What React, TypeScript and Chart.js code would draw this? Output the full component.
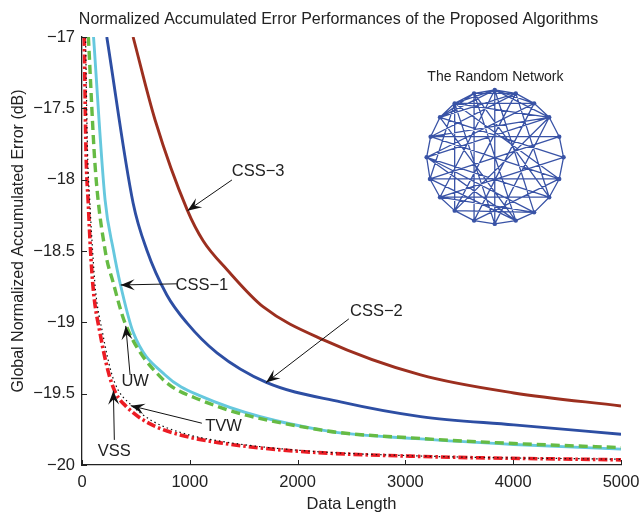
import React, { useEffect, useRef } from "react";
import { Chart, registerables } from "chart.js";

Chart.register(...registerables);

// ---------- data ----------
const chartTitle = "Normalized Accumulated Error Performances of the Proposed Algorithms";
const xTitle = "Data Length";
const yTitle = "Global Normalized Accumulated Error (dB)";

const css3X = [474, 678, 976, 1125, 1348, 1682, 2240, 3141, 4006, 5000];
const css3Y = [-17, -17.582, -18.212, -18.43, -18.633, -18.892, -19.123, -19.369, -19.495, -19.586];

const css2X = [230, 474, 601, 787, 973, 1252, 1710, 2398, 3141, 4006, 5000];
const css2Y = [-17, -18.163, -18.493, -18.808, -19.004, -19.214, -19.421, -19.558, -19.661, -19.719, -19.784];

const css1X = [107, 214, 291, 353, 477, 771, 1097, 2212, 3141, 4006, 5000];
const css1Y = [-17, -18.142, -18.493, -18.724, -19.074, -19.369, -19.516, -19.754, -19.817, -19.856, -19.889];

const uwX = [59, 121, 214, 291, 400, 725, 1097, 2212, 3141, 4006, 5000];
const uwY = [-17, -17.897, -18.493, -18.726, -19.006, -19.381, -19.544, -19.754, -19.814, -19.849, -19.878];

const vssX = [21, 37, 59, 79, 105, 167, 244, 307, 415, 632, 911, 1283, 2026, 3141, 5000];
const vssY = [-17, -17.792, -18.177, -18.493, -18.773, -19.074, -19.347, -19.487, -19.593, -19.712, -19.789, -19.845, -19.905, -19.94, -19.964];

const tvwX = [33, 51, 74, 98, 125, 191, 270, 335, 446, 651, 929, 1301, 2026, 3141, 5000];
const tvwY = [-17, -17.792, -18.177, -18.493, -18.773, -19.074, -19.347, -19.474, -19.572, -19.691, -19.775, -19.835, -19.898, -19.937, -19.96];

// inset network (node positions read in data units)
const netTitle = "The Random Network";
const netTitlePos = { x: 3835, y: -17.284 };
const netX = [3829, 4024, 4194, 4334, 4427, 4467, 4427, 4334, 4194, 4024, 3829, 3637, 3457, 3321, 3228, 3197, 3234, 3321, 3457, 3637];
const netY = [-17.371, -17.395, -17.465, -17.563, -17.699, -17.843, -17.995, -18.123, -18.229, -18.287, -18.31, -18.287, -18.217, -18.123, -17.995, -17.843, -17.699, -17.563, -17.465, -17.395];
const edgeFrom = [0, 1, 2, 3, 4, 5, 6, 7, 8, 9, 10, 11, 12, 13, 14, 15, 16, 17, 18, 19,
  16, 18, 18, 0, 19, 15, 15, 15, 15, 15, 16, 16, 17, 17, 17, 13, 13, 13, 14, 14, 14, 12, 12, 11, 11, 10, 10, 9, 9, 8, 7, 7, 6, 0, 19, 18, 17, 18, 0, 14, 12, 13, 16];
const edgeTo = [1, 2, 3, 4, 5, 6, 7, 8, 9, 10, 11, 12, 13, 14, 15, 16, 17, 18, 19, 0,
  4, 2, 12, 10, 11, 2, 3, 7, 8, 9, 1, 3, 0, 1, 5, 7, 8, 5, 4, 9, 6, 8, 3, 2, 6, 18, 3, 19, 17, 0, 19, 1, 18, 2, 1, 0, 19, 3, 3, 18, 1, 0, 6];

// annotations: label position, arrow tail, arrow tip (data units)
const annLabels = ["CSS\u22123", "CSS\u22121", "CSS\u22122", "UW", "TVW", "VSS"];
const annTextX = [1634, 1112, 2731, 493, 1313, 299];
const annTextY = [-17.932, -18.732, -18.919, -19.407, -19.722, -19.9];
const annTailX = [1391, 880, 2475, 446, 1112, 300];
const annTailY = [-18.002, -18.73, -18.976, -19.369, -19.707, -19.824];
const annTipX = [979, 359, 1707, 406, 452, 291];
const annTipY = [-18.217, -18.738, -19.422, -19.025, -19.584, -19.479];

const xMin = 0, xMax = 5000, xStep = 1000;
const yMin = -20, yMax = -17, yStep = 0.5;

const FONT = "'Liberation Sans', Arial, Helvetica, sans-serif";
const TXT = "#222222";

const pts = (xs: number[], ys: number[]) => xs.map((x, i) => ({ x, y: ys[i] }));

function edgePoints() {
  const out: { x: number; y: number | null }[] = [];
  edgeFrom.forEach((a, i) => {
    const b = edgeTo[i];
    out.push({ x: netX[a], y: netY[a] });
    out.push({ x: netX[b], y: netY[b] });
    out.push({ x: netX[b], y: null });
  });
  return out;
}

function drawArrow(ctx: CanvasRenderingContext2D, x1: number, y1: number, x2: number, y2: number) {
  ctx.beginPath();
  ctx.moveTo(x1, y1);
  ctx.lineTo(x2, y2);
  ctx.stroke();
  const ang = Math.atan2(y2 - y1, x2 - x1);
  ctx.save();
  ctx.translate(x2, y2);
  ctx.rotate(ang);
  ctx.beginPath();
  ctx.moveTo(0, 0);
  ctx.lineTo(-14, -5.5);
  ctx.lineTo(-8.5, 0);
  ctx.lineTo(-14, 5.5);
  ctx.closePath();
  ctx.fill();
  ctx.restore();
}

const overlayPlugin = {
  id: "overlay",
  afterDraw(chart: any) {
    const { ctx, chartArea } = chart;
    const xs = chart.scales.x;
    const ys = chart.scales.y;
    ctx.save();
    // inward tick marks
    ctx.strokeStyle = "#222";
    ctx.lineWidth = 1;
    xs.ticks.forEach((t: any) => {
      const px = Math.round(xs.getPixelForValue(t.value)) + 0.5;
      ctx.beginPath();
      ctx.moveTo(px, chartArea.bottom);
      ctx.lineTo(px, chartArea.bottom - 5);
      ctx.stroke();
    });
    ys.ticks.forEach((t: any) => {
      const py = Math.round(ys.getPixelForValue(t.value)) + 0.5;
      ctx.beginPath();
      ctx.moveTo(chartArea.left, py);
      ctx.lineTo(chartArea.left + 5, py);
      ctx.stroke();
    });
    // titles
    ctx.fillStyle = TXT;
    ctx.textAlign = "center";
    ctx.textBaseline = "alphabetic";
    ctx.font = `16px ${FONT}`;
    ctx.fillText(chartTitle, 338.5, 24);
    ctx.font = `16.5px ${FONT}`;
    ctx.fillText(xTitle, (chartArea.left + chartArea.right) / 2, 509);
    ctx.save();
    ctx.translate(22.5, 241);
    ctx.rotate(-Math.PI / 2);
    ctx.font = `16px ${FONT}`;
    ctx.fillText(yTitle, 0, 0);
    ctx.restore();
    // network title
    ctx.font = `14px ${FONT}`;
    ctx.textBaseline = "middle";
    ctx.fillText(netTitle, xs.getPixelForValue(netTitlePos.x), ys.getPixelForValue(netTitlePos.y));
    // annotations
    ctx.strokeStyle = "#111";
    ctx.fillStyle = "#111";
    ctx.lineWidth = 1;
    annLabels.forEach((_, i) => {
      drawArrow(
        ctx,
        xs.getPixelForValue(annTailX[i]),
        ys.getPixelForValue(annTailY[i]),
        xs.getPixelForValue(annTipX[i]),
        ys.getPixelForValue(annTipY[i])
      );
    });
    ctx.fillStyle = TXT;
    ctx.font = `16.5px ${FONT}`;
    ctx.textAlign = "center";
    ctx.textBaseline = "middle";
    annLabels.forEach((lab, i) => {
      ctx.fillText(lab, xs.getPixelForValue(annTextX[i]), ys.getPixelForValue(annTextY[i]) + 1);
    });
    ctx.restore();
  },
};

export default function App() {
  const ref = useRef<HTMLCanvasElement | null>(null);

  useEffect(() => {
    if (!ref.current) return;
    const curve = (label: string, data: any, color: string, width: number, dash: number[] = []) => ({
      label,
      data,
      borderColor: color,
      backgroundColor: color,
      borderWidth: width,
      borderDash: dash,
      pointRadius: 0,
      fill: false,
      cubicInterpolationMode: "monotone" as const,
    });
    const netColor = "#3953a6";
    const chart = new Chart(ref.current, {
      type: "line",
      data: {
        datasets: [
          curve("TVW", pts(tvwX, tvwY), "#111111", 1.2, [1.5, 3]),
          curve("VSS", pts(vssX, vssY), "#ec1c24", 3.6, [9, 3, 2.5, 3]),
          curve("UW", pts(uwX, uwY), "#66bb44", 3.4, [9, 5]),
          curve("CSS-1", pts(css1X, css1Y), "#66c8de", 2.9),
          curve("CSS-2", pts(css2X, css2Y), "#2d4ea3", 2.9),
          curve("CSS-3", pts(css3X, css3Y), "#9c2f1f", 2.9),
          {
            label: "nodes",
            data: pts(netX, netY),
            showLine: false,
            pointRadius: 2.2,
            pointBackgroundColor: netColor,
            pointBorderWidth: 0,
            borderColor: netColor,
          },
          {
            label: "edges",
            data: edgePoints(),
            borderColor: netColor,
            borderWidth: 1.3,
            pointRadius: 0,
            tension: 0,
            spanGaps: false,
            fill: false,
          },
        ],
      },
      options: {
        animation: false,
        responsive: false,
        devicePixelRatio: 1,
        layout: { autoPadding: false, padding: { top: 37, right: 19, left: 0, bottom: 0 } },
        plugins: {
          legend: { display: false },
          tooltip: { enabled: false },
          title: { display: false },
        },
        scales: {
          x: {
            type: "linear",
            min: xMin,
            max: xMax,
            afterFit: (s: any) => {
              s.height = 51;
            },
            ticks: {
              stepSize: xStep,
              padding: 0,
              color: TXT,
              font: { family: FONT, size: 16.5 },
              maxRotation: 0,
              callback: (v: any) => String(v),
            },
            grid: {
              display: true,
              drawOnChartArea: false,
              drawTicks: true,
              tickLength: 8,
              tickColor: "rgba(0,0,0,0)",
            },
            border: { display: true, color: "#222", width: 1.3 },
          },
          y: {
            type: "linear",
            min: yMin,
            max: yMax,
            afterFit: (s: any) => {
              s.width = 82;
            },
            ticks: {
              stepSize: yStep,
              padding: 0,
              color: TXT,
              font: { family: FONT, size: 16.5 },
              callback: (v: any) => (Number(v) < 0 ? "\u2212" + Math.abs(Number(v)) : String(v)),
            },
            grid: {
              display: true,
              drawOnChartArea: false,
              drawTicks: true,
              tickLength: 7,
              tickColor: "rgba(0,0,0,0)",
            },
            border: { display: true, color: "#222", width: 1.3 },
          },
        },
      },
      plugins: [overlayPlugin],
    });
    return () => chart.destroy();
  }, []);

  return (
    <div style={{ position: "absolute", left: 0, top: 0, width: 640, height: 516, background: "#fff" }}>
      <canvas ref={ref} width={640} height={516} style={{ display: "block", width: 640, height: 516 }} />
    </div>
  );
}
